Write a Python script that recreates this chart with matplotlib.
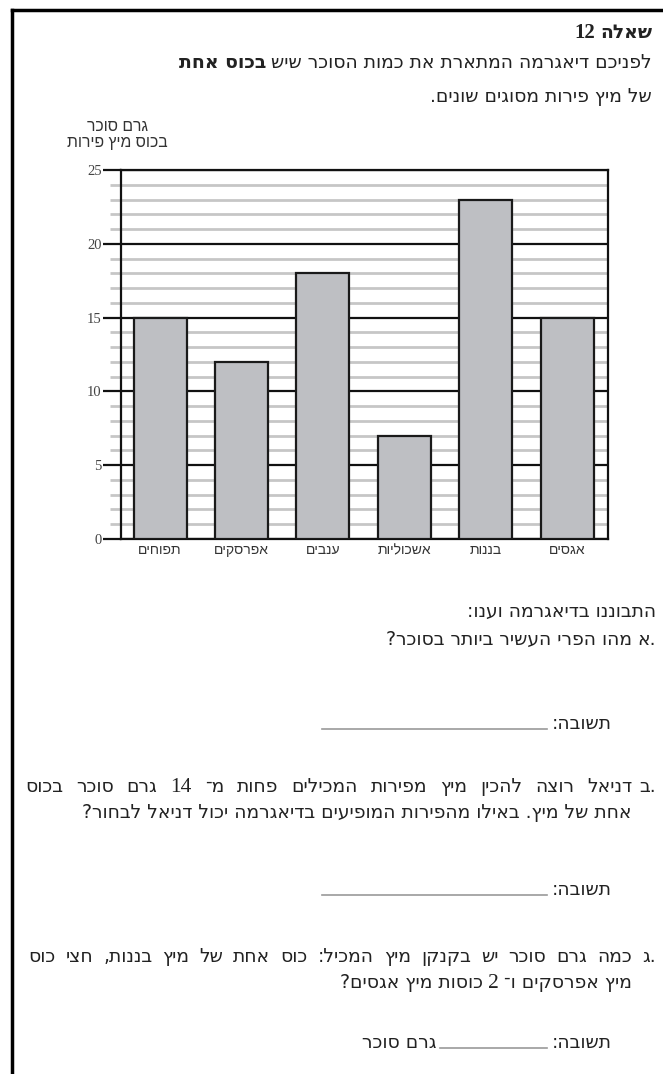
#!/usr/bin/env python3
"""
Question 12 worksheet: bar chart of sugar per glass of fruit juice,
with the Hebrew question text around it.
"""

import re
import matplotlib
matplotlib.use('Agg')
import matplotlib.pyplot as plt
from matplotlib.lines import Line2D

# Page size in pixels (dpi 100)
W, H = 663, 1074

# Data
FRUITS = ['תפוחים', 'אפרסקים', 'ענבים', 'אשכוליות', 'בננות', 'אגסים']
SUGAR = [15, 12, 18, 7, 23, 15]
Y_MAJOR = [0, 5, 10, 15, 20, 25]
Y_MINOR = [v for v in range(26) if v % 5]
Y_LABEL = ['גרם סוכר', 'בכוס מיץ פירות']

HEB = 'DejaVu Sans'
SMALL_HEB = 'Liberation Sans'
NUM = 'Liberation Serif'
TEXT_SIZE = 13.5
LEFT_MARGIN = 25


def vis(s):
    """Logical Hebrew -> visual order (matplotlib has no bidi); keep digit runs LTR"""
    out = s[::-1]
    return re.sub(r'[0-9]+', lambda m: m.group(0)[::-1], out)


def fx(x):
    return x / W


def fy(y):
    return 1 - y / H


def style_of(kw):
    style = dict(family=HEB, size=TEXT_SIZE, color='#222222')
    style.update(kw)
    return style


def put_runs(fig, renderer, x_right, y, runs, gap=5):
    """Draw text runs right to left, starting at x_right (pixels), baseline y"""
    x = x_right
    for text, kw in runs:
        t = fig.text(fx(x), fy(y), vis(text), ha='right', va='baseline', **style_of(kw))
        bb = t.get_window_extent(renderer)
        x = bb.x0 - gap


def put_justified(fig, renderer, x_right, x_left, y, runs):
    """Justified line: words spread so the line fills x_left..x_right"""
    words = []
    for text, kw in runs:
        for w in text.split():
            words.append((w, kw))
    texts, widths = [], []
    for w, kw in words:
        t = fig.text(0, fy(y), vis(w), ha='right', va='baseline', **style_of(kw))
        texts.append(t)
        widths.append(t.get_window_extent(renderer).width)
    gap = (x_right - x_left - sum(widths)) / (len(words) - 1)
    x = x_right
    for t, wd in zip(texts, widths):
        t.set_x(fx(x))
        x -= wd + gap


def draw_chart(fig):
    ax = fig.add_axes([fx(121), fy(539), (608 - 121) / W, (539 - 170) / H])
    x = list(range(len(FRUITS)))
    ax.bar(x, SUGAR, width=0.65, color='#bebfc3', edgecolor='#1a1a1a',
           linewidth=1.6, zorder=3)

    ax.set_xlim(-0.48, len(FRUITS) - 0.5)
    ax.set_ylim(0, 25)
    ax.set_axisbelow(True)

    ax.set_yticks(Y_MAJOR)
    ax.set_yticks(Y_MINOR, minor=True)
    ax.set_yticklabels([str(v) for v in Y_MAJOR], family=NUM, fontsize=10.5, color='#444444')
    ax.yaxis.grid(True, which='major', color='#111111', linewidth=1.6)
    ax.yaxis.grid(True, which='minor', color='#c6c6c6', linewidth=2.0)
    ax.tick_params(axis='y', which='major', length=13, width=1.6, color='#111111', pad=1)
    ax.tick_params(axis='y', which='minor', length=8, width=2.0, color='#c6c6c6')

    ax.set_xticks(x)
    ax.set_xticklabels([vis(f) for f in FRUITS], family=SMALL_HEB, fontsize=10, color='#333333')
    ax.tick_params(axis='x', length=0, pad=3)

    for side in ['left', 'right', 'top', 'bottom']:
        ax.spines[side].set_linewidth(1.6)
        ax.spines[side].set_color('#111111')

    # y axis title, two centred lines above the axis
    for i, line in enumerate(Y_LABEL):
        fig.text(fx(117), fy(131 + 16 * i), vis(line), ha='center', va='baseline',
                 family=SMALL_HEB, fontsize=11.3, color='#333333')
    return ax


def answer_line(fig, x0, x1, y):
    fig.add_artist(Line2D([fx(x0), fx(x1)], [fy(y), fy(y)], color='#9a9a9a', linewidth=1.2))


def item_label(fig, letter, y):
    fig.text(fx(656), fy(y), letter, ha='right', va='baseline', family=HEB,
             size=TEXT_SIZE, color='#222222')


def draw_text(fig):
    r = fig.canvas.get_renderer()
    bold = dict(weight='bold')
    big_num = dict(family=NUM, size=15.5)

    put_runs(fig, r, 652, 38, [('שאלה', bold), ('12', dict(family=NUM, weight='bold', size=15))])
    put_runs(fig, r, 652, 68, [('לפניכם דיאגרמה המתארת את כמות הסוכר שיש', {}),
                               ('בכוס אחת', bold)])
    put_runs(fig, r, 652, 102, [('של מיץ פירות מסוגים שונים.', {})])

    put_runs(fig, r, 656, 617, [('התבוננו בדיאגרמה וענו:', {})])

    # question a
    item_label(fig, 'א.', 645)
    put_runs(fig, r, 632, 645, [('מהו הפרי העשיר ביותר בסוכר?', {})])
    put_runs(fig, r, 612, 729, [('תשובה:', {})])
    answer_line(fig, 322, 547, 729)

    # question b
    item_label(fig, 'ב.', 792)
    put_justified(fig, r, 632, LEFT_MARGIN, 792,
                  [('דניאל רוצה להכין מיץ מפירות המכילים פחות מ־', {}),
                   ('14', big_num),
                   ('גרם סוכר בכוס', {})])
    put_runs(fig, r, 632, 818, [('אחת של מיץ. באילו מהפירות המופיעים בדיאגרמה יכול דניאל לבחור?', {})])
    put_runs(fig, r, 612, 895, [('תשובה:', {})])
    answer_line(fig, 322, 547, 895)

    # question c
    item_label(fig, 'ג.', 962)
    put_justified(fig, r, 632, LEFT_MARGIN + 3, 962,
                  [('כמה גרם סוכר יש בקנקן מיץ המכיל: כוס אחת של מיץ בננות, חצי כוס', {})])
    put_runs(fig, r, 632, 988, [('מיץ אפרסקים ו־', {}),
                                ('2', big_num),
                                ('כוסות מיץ אגסים?', {})])
    put_runs(fig, r, 612, 1048, [('תשובה:', {})])
    answer_line(fig, 440, 547, 1048)
    put_runs(fig, r, 437, 1048, [('גרם סוכר', {})])


def draw_frame(fig):
    fig.add_artist(Line2D([fx(12), fx(12)], [fy(10), 0], color='black', linewidth=2.5))
    fig.add_artist(Line2D([fx(12), 1], [fy(10), fy(10)], color='black', linewidth=2.5))


def main():
    fig = plt.figure(figsize=(W / 100, H / 100), dpi=100)
    fig.patch.set_facecolor('white')
    draw_frame(fig)
    draw_chart(fig)
    draw_text(fig)
    fig.savefig('out.png', dpi=100, facecolor='white')


if __name__ == '__main__':
    main()
